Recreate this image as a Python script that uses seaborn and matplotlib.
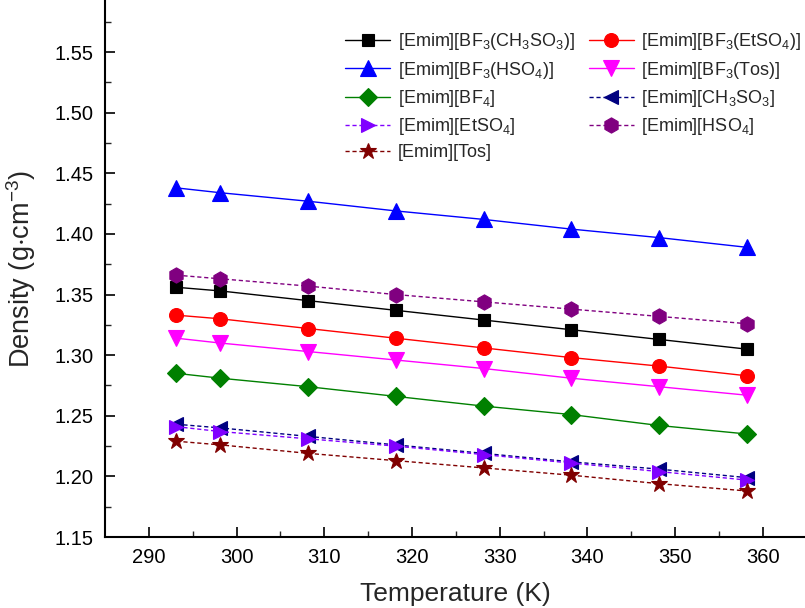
import matplotlib
matplotlib.use("Agg")
import matplotlib.pyplot as plt
import seaborn as sns
import pandas as pd

sns.set_theme(style="ticks")
plt.rcParams['font.family'] = ['Liberation Sans', 'DejaVu Sans']
plt.rcParams['mathtext.default'] = 'regular'

temps = [293.15, 298.15, 308.15, 318.15, 328.15, 338.15, 348.15, 358.15]

names = [
    r'[Emim][BF$_3$(CH$_3$SO$_3$)]',
    r'[Emim][BF$_3$(EtSO$_4$)]',
    r'[Emim][BF$_3$(HSO$_4$)]',
    r'[Emim][BF$_3$(Tos)]',
    r'[Emim][BF$_4$]',
    r'[Emim][CH$_3$SO$_3$]',
    r'[Emim][EtSO$_4$]',
    r'[Emim][HSO$_4$]',
    r'[Emim][Tos]',
]

bf3_ch3so3 = [1.356, 1.353, 1.345, 1.337, 1.329, 1.321, 1.313, 1.305]
bf3_etso4 = [1.333, 1.330, 1.322, 1.314, 1.306, 1.298, 1.291, 1.283]
bf3_hso4 = [1.438, 1.434, 1.427, 1.419, 1.412, 1.404, 1.397, 1.389]
bf3_tos = [1.314, 1.310, 1.303, 1.296, 1.289, 1.281, 1.274, 1.267]
bf4 = [1.285, 1.281, 1.274, 1.266, 1.258, 1.251, 1.242, 1.235]
ch3so3 = [1.243, 1.240, 1.233, 1.226, 1.219, 1.212, 1.206, 1.199]
etso4 = [1.241, 1.237, 1.231, 1.225, 1.218, 1.211, 1.204, 1.197]
hso4 = [1.366, 1.363, 1.357, 1.350, 1.344, 1.338, 1.332, 1.326]
tos = [1.229, 1.226, 1.219, 1.213, 1.207, 1.201, 1.194, 1.188]

series = [bf3_ch3so3, bf3_etso4, bf3_hso4, bf3_tos, bf4, ch3so3, etso4, hso4, tos]
colors = ['black', '#ff0000', '#0000ff', '#ff00ff', '#008000', '#000080', '#8000ff', '#800080', '#800000']
markers = ['s', 'o', '^', 'v', 'D', '<', '>', 'h', '*']
styles = ['-', '-', '-', '-', '-', (0, (3, 2)), (0, (3, 2)), (0, (3, 2)), (0, (3, 2))]
msizes = [9, 10, 11, 11, 9, 10, 10, 11, 12]

fig = plt.figure(figsize=(8.05, 6.08), dpi=100)
ax = fig.add_axes([105/805, 71/608, 700/805, 537/608])

for name, vals, c, m, ls, ms in zip(names, series, colors, markers, styles, msizes):
    df = pd.DataFrame({'T': temps, 'rho': vals})
    sns.lineplot(data=df, x='T', y='rho', ax=ax, color=c, marker=m, markersize=ms,
                 markeredgecolor=c, markeredgewidth=0.8, linewidth=1.0, linestyle=ls,
                 label=name)

ax.set_xlim(285, 364.8)
ax.set_ylim(1.15, 1.593)
ax.set_xticks([290, 300, 310, 320, 330, 340, 350, 360])
ax.set_xticks([295, 305, 315, 325, 335, 345, 355], minor=True)
yt = [1.15, 1.20, 1.25, 1.30, 1.35, 1.40, 1.45, 1.50, 1.55]
ax.set_yticks(yt)
ax.set_yticks([1.175, 1.225, 1.275, 1.325, 1.375, 1.425, 1.475, 1.525, 1.575], minor=True)
ax.set_yticklabels([f'{v:.2f}' for v in yt])
ax.tick_params(axis='both', which='major', direction='in', length=7, width=1.2, labelsize=14.5, colors='black', pad=8)
ax.tick_params(axis='both', which='minor', direction='in', length=4, width=1.0)
for s in ['top', 'right']:
    ax.spines[s].set_visible(False)
for s in ['left', 'bottom']:
    ax.spines[s].set_linewidth(1.5)
    ax.spines[s].set_color('black')

ax.set_xlabel('Temperature (K)', fontsize=19, labelpad=11)
ax.set_ylabel(r'Density (g$\cdot$cm$^{-3}$)', fontsize=19.5, labelpad=12)

handles, labels = ax.get_legend_handles_labels()
order = [0, 2, 4, 6, 8, 1, 3, 5, 7]
hs = [handles[i] for i in order]
ls_ = [labels[i] for i in order]
leg = ax.legend(hs, ls_, loc='upper left', bbox_to_anchor=(0.333, 0.955), ncol=2, frameon=False,
                fontsize=13, handlelength=2.5, columnspacing=0.8, labelspacing=0.4,
                handletextpad=0.4, borderaxespad=0.0)

fig.savefig('out.png', dpi=100)
